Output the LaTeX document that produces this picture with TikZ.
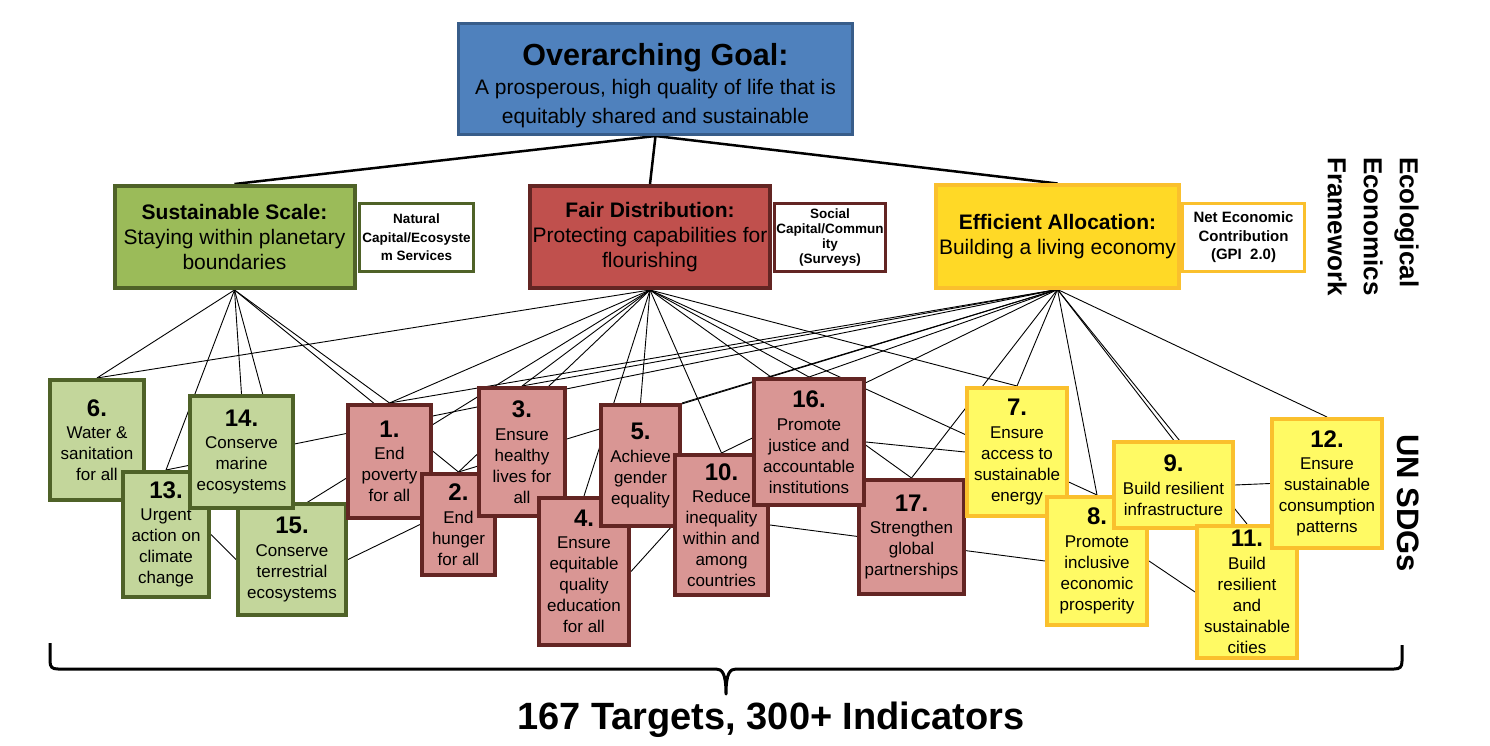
\documentclass[tikz,border=0pt]{standalone}
\usepackage{fontspec}
\setmainfont{Liberation Sans}
\usetikzlibrary{positioning, backgrounds}
\definecolor{goalfill}{RGB}{79,129,189}
\definecolor{goalline}{RGB}{56,93,138}
\definecolor{scalefill}{RGB}{155,187,89}
\definecolor{scaleline}{RGB}{79,98,40}
\definecolor{scalesdgfill}{RGB}{195,214,155}
\definecolor{fairfill}{RGB}{192,80,77}
\definecolor{fairline}{RGB}{99,37,35}
\definecolor{fairsdgfill}{RGB}{217,150,148}
\definecolor{allocfill}{RGB}{255,217,38}
\definecolor{allocline}{RGB}{250,192,45}
\definecolor{allocsdgfill}{RGB}{255,250,100}
\newcommand{\sdgnum}{\fontsize{24}{24}\selectfont\bfseries}

\begin{document}
\begin{tikzpicture}[
    x=1pt, y=-1pt,
    goalbox/.style={draw=goalline, line width=3, fill=goalfill, minimum width=394, minimum height=111, inner sep=0},
    pillar/.style={line width=4, inner sep=0, align=center, minimum width=240, minimum height=102, font=\fontsize{21}{25}\selectfont},
    measure/.style={draw, line width=3.5, fill=white, inner sep=0, align=center, minimum height=68, font=\fontsize{13.5}{18.5}\selectfont\bfseries},
    sdg/.style={line width=4, inner sep=0, align=center, font=\fontsize{17}{21}\selectfont},
    greenSdg/.style={sdg, draw=scaleline, fill=scalesdgfill},
    redSdg/.style={sdg, draw=fairline, fill=fairsdgfill},
    yellowSdg/.style={sdg, draw=allocline, fill=allocsdgfill},
    sidelabel/.style={rotate=-90, inner sep=0, font=\bfseries},
    trunk/.style={line width=2.5},
    link/.style={line width=0.9}
]
    \useasboundingbox (0,0) rectangle (1490,746);

    % Goal
    \node[goalbox] (goal) at (655.5,79) {};
    \node[inner sep=0, align=center, font=\fontsize{21}{29}\selectfont] (goalText) at (655.5,86)
        {{\fontsize{30.5}{30.5}\selectfont\bfseries Overarching Goal:}\\A prosperous, high quality of life that is\\equitably shared and sustainable};

    % Measures
    \node[measure, draw=scaleline, minimum width=114] (natural) at (416.5,237.5) {Natural\\Capital/Ecosyste\\m Services};
    \node[measure, draw=fairline, minimum width=111, font=\fontsize{13.5}{15}\selectfont\bfseries] (social) at (830,237.5) {Social\\Capital/Commun\\ity\\(Surveys)};
    \node[measure, draw=allocline, minimum width=122, font=\fontsize{15}{18.5}\selectfont\bfseries] (netEcon) at (1243.5,237.5) {Net Economic\\Contribution\\(GPI\ \ 2.0)};

    % Pillars
    \node[pillar, draw=scaleline, fill=scalefill] (scale) at (234.5,237) {\textbf{Sustainable Scale:}\\Staying within planetary\\boundaries};
    \node[pillar, draw=fairline, fill=fairfill] (fair) at (650,237) {\textbf{Fair Distribution:}\\Protecting capabilities for\\flourishing};
    \node[pillar, draw=allocline, fill=allocfill, minimum width=243] (alloc) at (1057.5,236.5) {\textbf{Efficient Allocation:}\\Building a living economy};

    % SDGs, scale
    \node[greenSdg, minimum width=94, minimum height=120] (sdg6) at (97,440) {{\sdgnum 6.}\\[1.5pt]Water \&\\sanitation\\for all};
    \node[greenSdg, minimum width=86, minimum height=125] (sdg13) at (166,534.5) {{\sdgnum 13.}\\[1.5pt]Urgent\\action on\\climate\\change};
    \node[greenSdg, minimum width=108, minimum height=111] (sdg15) at (292,559.5) {{\sdgnum 15.}\\[1.5pt]Conserve\\terrestrial\\ecosystems};
    \node[greenSdg, minimum width=103, minimum height=112] (sdg14) at (241.5,452) {{\sdgnum 14.}\\[1.5pt]Conserve\\marine\\ecosystems};

    % SDGs, distribution
    \node[redSdg, minimum width=83, minimum height=113] (sdg1) at (389.5,461.5) {{\sdgnum 1.}\\[1.5pt]End\\poverty\\for all};
    \node[redSdg, minimum width=73, minimum height=101] (sdg2) at (458.5,524.5) {{\sdgnum 2.}\\[1.5pt]End\\hunger\\for all};
    \node[redSdg, minimum width=86, minimum height=128] (sdg3) at (522,452) {{\sdgnum 3.}\\[1.5pt]Ensure\\healthy\\lives for\\all};
    \node[redSdg, minimum width=90, minimum height=147] (sdg4) at (584,571.5) {{\sdgnum 4.}\\[1.5pt]Ensure\\equitable\\quality\\education\\for all};
    \node[redSdg, minimum width=79, minimum height=121] (sdg5) at (640.5,465.5) {{\sdgnum 5.}\\[1.5pt]Achieve\\gender\\equality};
    \node[redSdg, minimum width=93, minimum height=140] (sdg10) at (721.5,525) {{\sdgnum 10.}\\[1.5pt]Reduce\\inequality\\within and\\among\\countries};
    \node[redSdg, minimum width=105, minimum height=114] (sdg17) at (911.5,537) {{\sdgnum 17.}\\[1.5pt]Strengthen\\global\\partnerships};
    \node[redSdg, minimum width=110, minimum height=126] (sdg16) at (809,442) {{\sdgnum 16.}\\[1.5pt]Promote\\justice and\\accountable\\institutions};

    % SDGs, allocation
    \node[yellowSdg, minimum width=100, minimum height=128] (sdg7) at (1017,452) {{\sdgnum 7.}\\[1.5pt]Ensure\\access to\\sustainable\\energy};
    \node[yellowSdg, minimum width=100, minimum height=128] (sdg8) at (1097,561) {{\sdgnum 8.}\\[1.5pt]Promote\\inclusive\\economic\\prosperity};
    \node[yellowSdg, minimum width=119, minimum height=86] (sdg9) at (1173.5,485) {{\sdgnum 9.}\\[1.5pt]Build resilient\\infrastructure};
    \node[yellowSdg, minimum width=100, minimum height=132] (sdg11) at (1247,592) {{\sdgnum 11.}\\[1.5pt]Build\\resilient\\and\\sustainable\\cities};
    \node[yellowSdg, minimum width=110, minimum height=129] (sdg12) at (1327,483.5) {{\sdgnum 12.}\\[1.5pt]Ensure\\sustainable\\consumption\\patterns};

    % Side labels
    \node[sidelabel, anchor=north west, align=left, font=\fontsize{26}{36}\selectfont\bfseries] (eefLabel) at (1419,157) {Ecological\\Economics\\Framework};
    \node[sidelabel, font=\fontsize{31}{31}\selectfont\bfseries] (sdgLabel) at (1408,503) {UN SDGs};

    % Brace and count
    \draw[line width=3, line join=round] (50,643) -- (50,661) .. controls (50,667) and (52,669) .. (58,669) -- (716,669)
        .. controls (722,669) and (726,673) .. (726,694) .. controls (726,673) and (730,669) .. (736,669) -- (1394,669)
        .. controls (1400,669) and (1402,667) .. (1402,661) -- (1402,645);
    \node[anchor=base, inner sep=0, font=\fontsize{38}{38}\selectfont\bfseries] (targets) at (771,729) {167 Targets, 300+ Indicators};

    \begin{scope}[on background layer]
        % Goal to pillars
        \draw[trunk] (goal.south) -- (scale.north);
        \draw[trunk] (goal.south) -- (fair.north);
        \draw[trunk] (goal.south) -- (alloc.north);

        % Scale links
        \draw[link] (scale.south) -- (sdg6.north);
        \draw[link] (scale.south) -- (sdg13.north);
        \draw[link] (scale.south) -- (sdg14.north);
        \draw[link] (scale.south) -- (sdg15.north);
        \draw[link] (scale.south) -- (sdg1.north);
        \draw[link] (scale.south) -- (sdg2.north);

        % Distribution links
        \draw[link] (fair.south) -- (sdg6.north);
        \draw[link] (fair.south) -- (sdg14.south east);
        \draw[link] (fair.south) -- (sdg1.north);
        \draw[link] (fair.south) -- (sdg2.north);
        \draw[link] (fair.south) -- (sdg3.north);
        \draw[link] (fair.south) -- (sdg4.north);
        \draw[link] (fair.south) -- (sdg5.north);
        \draw[link] (fair.south) -- (sdg10.north);
        \draw[link] (fair.south) -- (sdg16.north);
        \draw[link] (fair.south) -- (sdg17.north);
        \draw[link] (fair.south) -- (sdg7.north);
        \draw[link] (fair.south) -- (sdg8.north);

        % Allocation links
        \draw[link] (alloc.south) -- (sdg13.north);
        \draw[link] (alloc.south) -- (sdg1.north);
        \draw[link] (alloc.south) -- (sdg2.north);
        \draw[link] (alloc.south) -- (sdg3.north);
        \draw[link] (alloc.south) -- (sdg5.north east);
        \draw[link] (alloc.south) -- (sdg10.north);
        \draw[link] (alloc.south) -- (sdg16.north);
        \draw[link] (alloc.south) -- (sdg17.north);
        \draw[link] (alloc.south) -- (sdg7.north);
        \draw[link] (alloc.south) -- (sdg8.north);
        \draw[link] (alloc.south) -- (sdg9.north);
        \draw[link] (alloc.south) -- (sdg11.north);
        \draw[link] (alloc.south) -- (sdg12.north);

        % SDG to SDG
        \draw[link] (sdg13.east) -- (sdg15.west);
        \draw[link] (sdg15.east) -- (sdg2.west);
        \draw[link] (sdg4.east) -- (sdg10.west);
        \draw[link] (sdg10.east) -- (sdg8.west);
        \draw[link] (sdg16.east) -- (sdg7.west);
        \draw[link] (sdg8.east) -- (sdg11.west);
        \draw[link] (sdg9.east) -- (sdg12.west);
    \end{scope}
\end{tikzpicture}
\end{document}
